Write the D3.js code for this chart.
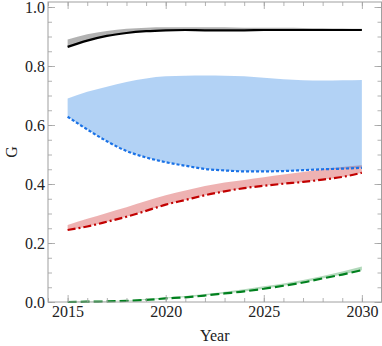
<!DOCTYPE html>
<html>
<head>
<meta charset="utf-8">
<script src="https://cdn.jsdelivr.net/npm/d3@7"></script>
<style>
  html, body { margin: 0; padding: 0; background: #fff; }
  svg { display: block; }
  text { font-family: "Liberation Serif", "Times New Roman", serif; fill: #222; }
</style>
</head>
<body>
<svg id="chart" width="382" height="346"></svg>
<script>
// values, one per year
const years = [2015, 2016, 2017, 2018, 2019, 2020, 2021, 2022, 2023, 2024, 2025, 2026, 2027, 2028, 2029, 2030];

const blackLine = [0.865, 0.886, 0.902, 0.912, 0.918, 0.921, 0.922, 0.921, 0.921, 0.921, 0.922, 0.922, 0.922, 0.922, 0.922, 0.922];
const blackUpper = [0.890, 0.908, 0.919, 0.926, 0.930, 0.931, 0.931, 0.931, 0.931, 0.930, 0.930, 0.930, 0.929, 0.928, 0.927, 0.926];

const blueLine = [0.628, 0.585, 0.545, 0.512, 0.490, 0.474, 0.462, 0.451, 0.446, 0.443, 0.443, 0.444, 0.447, 0.450, 0.452, 0.455];
const blueUpper = [0.690, 0.713, 0.730, 0.746, 0.758, 0.765, 0.767, 0.768, 0.767, 0.765, 0.760, 0.755, 0.752, 0.751, 0.752, 0.753];

const redLine = [0.244, 0.256, 0.272, 0.289, 0.309, 0.330, 0.346, 0.362, 0.375, 0.386, 0.394, 0.401, 0.407, 0.415, 0.424, 0.438];
const redUpper = [0.261, 0.282, 0.302, 0.321, 0.342, 0.362, 0.378, 0.393, 0.405, 0.414, 0.423, 0.432, 0.441, 0.450, 0.458, 0.464];

const greenLine = [0.000, 0.001, 0.002, 0.004, 0.007, 0.012, 0.016, 0.022, 0.029, 0.036, 0.045, 0.055, 0.066, 0.080, 0.093, 0.108];
const greenUpper = [0.001, 0.002, 0.003, 0.006, 0.010, 0.015, 0.020, 0.027, 0.035, 0.043, 0.053, 0.063, 0.075, 0.088, 0.103, 0.120];

const xTicks = [2015, 2020, 2025, 2030];
const yTicks = [0.0, 0.2, 0.4, 0.6, 0.8, 1.0];

const svg = d3.select("#chart");
const mLeft = 48, mRight = 381.5, mTop = 2, mBottom = 302;

const x = d3.scaleLinear().domain([2014, 2031]).range([mLeft, mRight]);
const y = d3.scaleLinear().domain([0, 1.017]).range([mBottom, mTop]);

const series = [
  { line: greenLine, upper: greenUpper, color: "#00801e", band: "rgba(0,128,30,0.3)", dash: "9,4" },
  { line: redLine, upper: redUpper, color: "#c20000", band: "rgba(200,0,0,0.3)", dash: "8,3,2,3" },
  { line: blueLine, upper: blueUpper, color: "#1a72e6", band: "rgba(0,105,222,0.3)", dash: "3,2" },
  { line: blackLine, upper: blackUpper, color: "#000", band: "rgba(0,0,0,0.3)", dash: null }
];

const area = d3.area()
  .curve(d3.curveMonotoneX)
  .x(d => x(d.year))
  .y0(d => y(d.lo))
  .y1(d => y(d.hi));

const line = d3.line()
  .curve(d3.curveMonotoneX)
  .x(d => x(d.year))
  .y(d => y(d.v));

// bands first, then the lines over them
series.forEach(s => {
  svg.append("path")
    .datum(years.map((yr, i) => ({ year: yr, lo: s.line[i], hi: s.upper[i] })))
    .attr("fill", s.band)
    .attr("d", area);
});

series.forEach(s => {
  svg.append("path")
    .datum(years.map((yr, i) => ({ year: yr, v: s.line[i] })))
    .attr("fill", "none")
    .attr("stroke", s.color)
    .attr("stroke-width", 2.2)
    .attr("stroke-dasharray", s.dash)
    .attr("d", line);
});

// frame with ticks on all sides
const frameColor = "#a0a0a0";
const minorX = d3.range(2014, 2032, 1);
const minorY = d3.range(0, 1.0001, 0.05);

const axB = d3.axisBottom(x).tickValues(xTicks).tickSize(-7).tickPadding(4).tickFormat(d3.format("d"));
const axT = d3.axisTop(x).tickValues(xTicks).tickSize(-7).tickFormat("");
const axL = d3.axisLeft(y).tickValues(yTicks).tickSize(-7).tickPadding(3).tickFormat(d3.format(".1f"));
const axR = d3.axisRight(y).tickValues(yTicks).tickSize(-7).tickFormat("");

const mB = d3.axisBottom(x).tickValues(minorX).tickSize(-4).tickFormat("");
const mT = d3.axisTop(x).tickValues(minorX).tickSize(-4).tickFormat("");
const mL = d3.axisLeft(y).tickValues(minorY).tickSize(-4).tickFormat("");
const mR = d3.axisRight(y).tickValues(minorY).tickSize(-4).tickFormat("");

function drawAxis(ax, tx, ty) {
  const g = svg.append("g").attr("transform", `translate(${tx},${ty})`).call(ax);
  g.attr("font-family", null);
  g.selectAll("path.domain").remove();
  g.selectAll("line").attr("stroke", frameColor).attr("stroke-width", 0.8);
  g.selectAll("text").attr("font-size", 16).attr("fill", "#222")
    .style("font-family", '"Liberation Serif", "Times New Roman", serif');
  return g;
}

drawAxis(mB, 0, mBottom);
drawAxis(mT, 0, mTop);
drawAxis(mL, mLeft, 0);
drawAxis(mR, mRight, 0);
drawAxis(axB, 0, mBottom);
drawAxis(axT, 0, mTop);
drawAxis(axL, mLeft, 0);
drawAxis(axR, mRight, 0);

svg.append("rect")
  .attr("x", mLeft).attr("y", mTop)
  .attr("width", mRight - mLeft).attr("height", mBottom - mTop)
  .attr("fill", "none")
  .attr("stroke", frameColor)
  .attr("stroke-width", 1);

// axis labels
svg.append("text")
  .attr("x", (mLeft + mRight) / 2)
  .attr("y", 341)
  .attr("text-anchor", "middle")
  .attr("font-size", 16)
  .text("Year");

svg.append("text")
  .attr("transform", `translate(17,${(mTop + mBottom) / 2}) rotate(-90)`)
  .attr("text-anchor", "middle")
  .attr("font-size", 16)
  .text("G");
</script>
</body>
</html>
